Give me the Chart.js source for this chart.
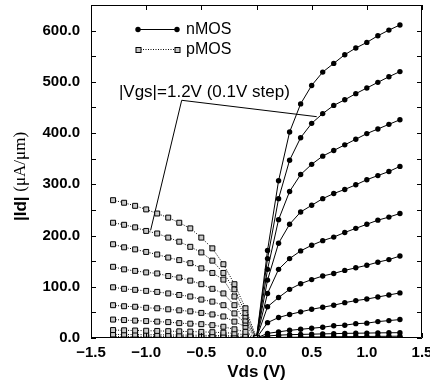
<!DOCTYPE html>
<html>
<head>
<meta charset="utf-8">
<script src="https://cdn.jsdelivr.net/npm/chart.js@4.4.0/dist/chart.umd.min.js"></script>
<style>
  html, body { margin: 0; padding: 0; background: #fff; overflow: hidden; }
  #wrap { width: 430px; height: 383px; }
</style>
</head>
<body>
<div id="wrap"><canvas id="grafico-ids" width="430" height="383"></canvas></div>
<script>
'use strict';

// Vds (V) de cada curva
const vdsN = [0, 0.1, 0.2, 0.3, 0.4, 0.5, 0.6, 0.7, 0.8, 0.9, 1.0, 1.1, 1.2, 1.3];
const vdsP = [-1.3, -1.2, -1.1, -1.0, -0.9, -0.8, -0.7, -0.6, -0.5, -0.4, -0.3, -0.2, -0.1, 0];

// |Id| (uA/um) nMOS, |Vgs| = 1.2 ... 0.1 V
const nmos12 = [0, 171, 307, 402, 457, 493, 519, 536, 553, 566, 577, 590, 601, 611];
const nmos11 = [0, 155, 272, 347, 391, 419, 438, 454, 465, 477, 488, 499, 510, 520];
const nmos10 = [0, 134, 231, 286, 319, 339, 355, 366, 377, 388, 399, 408, 417, 426];
const nmos09 = [0, 113, 185, 222, 246, 259, 272, 282, 290, 299, 309, 317, 325, 335];
const nmos08 = [0, 87, 134, 155, 170, 181, 190, 197, 206, 214, 222, 230, 236, 243];
const nmos07 = [0, 61, 79, 95, 106, 114, 121, 126, 132, 137, 142, 148, 153, 160];
const nmos06 = [0, 30, 40, 46, 51, 56, 60, 64, 69, 73, 76, 80, 84, 88];
const nmos05 = [0, 9, 12, 15, 17, 19, 21, 24, 25, 28, 29, 32, 34, 36];
const nmos04 = [0, 4, 5.5, 6.5, 7, 7.5, 8, 8.5, 9, 9.3, 9.6, 10, 10.2, 10.4];
const nmos03 = [0, 0.5, 1, 1.4, 1.7, 2, 2.2, 2.4, 2.6, 2.8, 3, 3.2, 3.3, 3.5];
const nmos02 = [0, 0.1, 0.2, 0.3, 0.35, 0.4, 0.45, 0.5, 0.55, 0.6, 0.62, 0.65, 0.7, 0.72];
const nmos01 = [0, 0.02, 0.03, 0.04, 0.05, 0.05, 0.06, 0.06, 0.07, 0.07, 0.08, 0.08, 0.09, 0.09];

// |Id| (uA/um) pMOS, |Vgs| = 1.2 ... 0.1 V
const pmos12 = [269, 264, 258, 251, 243, 235, 225, 214, 196, 175, 144, 105, 58, 0];
const pmos11 = [225, 221, 216, 209, 204, 196, 188, 178, 167, 151, 127, 95, 49, 0];
const pmos10 = [183, 177, 173, 168, 163, 157, 152, 146, 136, 127, 114, 81, 42, 0];
const pmos09 = [139, 134, 131, 128, 126, 121, 118, 112, 105, 96, 87, 64, 34, 0];
const pmos08 = [99, 96, 94, 92, 90, 87, 84, 81, 75, 71, 64, 48, 29, 0];
const pmos07 = [64, 62, 61, 59, 58, 56, 54, 52, 49, 46, 42, 32, 22, 0];
const pmos06 = [36, 35, 34, 33, 32, 31, 29, 28, 27, 25, 22, 17, 12, 0];
const pmos05 = [15.5, 15, 14.6, 14.2, 13.8, 13.4, 13, 12.5, 12, 11.3, 10.5, 9, 6, 0];
const pmos04 = [7, 6.8, 6.6, 6.4, 6.2, 6, 5.8, 5.6, 5.3, 5, 4.6, 4, 2.8, 0];
const pmos03 = [3, 2.9, 2.8, 2.7, 2.6, 2.5, 2.4, 2.3, 2.2, 2, 1.9, 1.6, 1.1, 0];
const pmos02 = [1, 1, 0.95, 0.9, 0.9, 0.85, 0.8, 0.8, 0.75, 0.7, 0.65, 0.55, 0.4, 0];
const pmos01 = [0.3, 0.3, 0.3, 0.28, 0.27, 0.26, 0.25, 0.24, 0.23, 0.22, 0.2, 0.17, 0.12, 0];

// linea de la anotacion (Vds, |Id|)
const notaX = [-0.96, -0.678, 0.546];
const notaY = [210, 464, 432];
const notaTexto = '|Vgs|=1.2V (0.1V step)';
const notaPos = { x: -1.247, y: 471 };

const xTicks = [-1.5, -1.0, -0.5, 0.0, 0.5, 1.0, 1.5];

const FUENTE = "'Liberation Sans', Arial, Helvetica, sans-serif";
const SERIF = "'Liberation Serif', 'Times New Roman', serif";

Chart.defaults.font.family = FUENTE;
Chart.defaults.color = '#000';

function puntos(xs, ys) {
    return xs.map((x, i) => ({ x: x, y: ys[i] }));
}

const curvasN = [nmos12, nmos11, nmos10, nmos09, nmos08, nmos07, nmos06, nmos05, nmos04, nmos03, nmos02, nmos01];
const curvasP = [pmos12, pmos11, pmos10, pmos09, pmos08, pmos07, pmos06, pmos05, pmos04, pmos03, pmos02, pmos01];

const datasets = [];

curvasP.forEach(c => {
    datasets.push({
        data: puntos(vdsP, c),
        borderColor: '#000',
        borderWidth: 1,
        borderDash: [1, 1.5],
        pointStyle: 'rect',
        pointRadius: 3.5,
        pointBorderWidth: 1,
        pointBorderColor: '#000',
        pointBackgroundColor: '#c8c8c8',
        tension: 0
    });
});

curvasN.forEach(c => {
    datasets.push({
        data: puntos(vdsN, c),
        borderColor: '#000',
        borderWidth: 1,
        pointStyle: 'circle',
        pointRadius: 2.7,
        pointBorderWidth: 0,
        pointBackgroundColor: '#000',
        tension: 0
    });
});

datasets.push({
    data: puntos(notaX, notaY),
    borderColor: '#000',
    borderWidth: 1,
    pointRadius: 0,
    tension: 0
});

// marco con marcas hacia dentro
const marcoPlugin = {
    id: 'marco',
    afterDatasetsDraw(chart) {
        const { ctx, chartArea: a, scales } = chart;
        ctx.save();
        ctx.strokeStyle = '#000';
        ctx.lineWidth = 1;
        ctx.beginPath();
        ctx.rect(a.left + 0.5, a.top + 0.5, a.right - a.left - 1, a.bottom - a.top - 1);
        ctx.stroke();
        ctx.beginPath();
        scales.y.ticks.forEach(t => {
            const py = Math.round(scales.y.getPixelForValue(t.value)) + 0.5;
            ctx.moveTo(a.left, py); ctx.lineTo(a.left + 5, py);
            ctx.moveTo(a.right, py); ctx.lineTo(a.right - 5, py);
        });
        scales.x.ticks.forEach(t => {
            const px = Math.round(scales.x.getPixelForValue(t.value)) + 0.5;
            ctx.moveTo(px, a.bottom); ctx.lineTo(px, a.bottom - 5);
            ctx.moveTo(px, a.top); ctx.lineTo(px, a.top + 5);
        });
        ctx.stroke();
        ctx.restore();
    }
};

// leyenda, anotacion y titulos de ejes
const textosPlugin = {
    id: 'textos',
    afterDraw(chart) {
        const { ctx, chartArea: a, scales } = chart;
        ctx.save();
        ctx.fillStyle = '#000';
        ctx.strokeStyle = '#000';
        ctx.lineWidth = 1;

        // leyenda
        const x1 = a.left + 47, x2 = a.left + 86;
        const yN = a.top + 24, yP = a.top + 44;
        ctx.beginPath();
        ctx.moveTo(x1, yN + 0.5); ctx.lineTo(x2, yN + 0.5);
        ctx.stroke();
        [x1, x2].forEach(px => {
            ctx.beginPath();
            ctx.arc(px, yN + 0.5, 2.7, 0, Math.PI * 2);
            ctx.fill();
        });
        ctx.setLineDash([1, 1.5]);
        ctx.beginPath();
        ctx.moveTo(x1, yP + 0.5); ctx.lineTo(x2, yP + 0.5);
        ctx.stroke();
        ctx.setLineDash([]);
        [x1, x2].forEach(px => {
            ctx.fillStyle = '#c8c8c8';
            ctx.fillRect(px - 2, yP - 1.5, 5, 5);
            ctx.strokeRect(px - 2, yP - 1.5, 5, 5);
        });
        ctx.fillStyle = '#000';
        ctx.font = '16px ' + FUENTE;
        ctx.textBaseline = 'middle';
        ctx.textAlign = 'left';
        ctx.fillText('nMOS', x2 + 9, yN + 1);
        ctx.fillText('pMOS', x2 + 9, yP + 1);

        // anotacion
        ctx.font = '17px ' + FUENTE;
        ctx.textBaseline = 'alphabetic';
        ctx.fillText(notaTexto, scales.x.getPixelForValue(notaPos.x), scales.y.getPixelForValue(notaPos.y));

        // titulo eje x
        ctx.font = 'bold 17px ' + FUENTE;
        ctx.textAlign = 'center';
        ctx.textBaseline = 'middle';
        ctx.fillText('Vds (V)', (a.left + a.right) / 2, 372);

        // titulo eje y (mezcla de fuentes)
        const parte1 = '|Id| ';
        const parte2 = '(\u03bcA/\u03bcm)';
        ctx.font = 'bold 17px ' + FUENTE;
        const w1 = ctx.measureText(parte1).width;
        ctx.font = '17px ' + SERIF;
        const w2 = ctx.measureText(parte2).width;
        const cy = (a.top + a.bottom) / 2 + 5;
        ctx.translate(21, cy);
        ctx.rotate(-Math.PI / 2);
        ctx.textAlign = 'left';
        ctx.font = 'bold 17px ' + FUENTE;
        ctx.fillText(parte1, -(w1 + w2) / 2, 0);
        ctx.font = '17px ' + SERIF;
        ctx.fillText(parte2, -(w1 + w2) / 2 + w1, 0);
        ctx.restore();
    }
};

const ctx = document.getElementById('grafico-ids').getContext('2d');

new Chart(ctx, {
    type: 'line',
    data: { datasets: datasets },
    options: {
        responsive: false,
        animation: false,
        devicePixelRatio: 1,
        layout: { padding: { left: 0, right: 8, top: 5, bottom: 0 } },
        plugins: { legend: { display: false }, tooltip: { enabled: false } },
        scales: {
            x: {
                type: 'linear',
                min: -1.5,
                max: 1.5,
                grid: { display: false, drawTicks: false },
                border: { display: false },
                afterBuildTicks(scale) {
                    scale.ticks = xTicks.map(v => ({ value: v }));
                },
                afterFit(scale) {
                    scale.height = 45;
                    scale.paddingLeft = 0;
                    scale.paddingRight = 0;
                },
                ticks: {
                    autoSkip: false,
                    maxRotation: 0,
                    padding: 6,
                    font: { size: 15, weight: 'bold' },
                    callback: v => (v < 0 ? '\u2212' : '') + Math.abs(v).toFixed(1)
                }
            },
            y: {
                min: 0,
                max: 650,
                grid: { display: false, drawTicks: false },
                border: { display: false },
                afterFit(scale) {
                    scale.width = 91;
                    scale.paddingTop = 0;
                    scale.paddingBottom = 0;
                },
                ticks: {
                    stepSize: 50,
                    autoSkip: false,
                    padding: 11,
                    font: { size: 15, weight: 'bold' },
                    callback: v => (v % 100 === 0 ? v.toFixed(1) : '')
                }
            }
        }
    },
    plugins: [marcoPlugin, textosPlugin]
});
</script>
</body>
</html>
